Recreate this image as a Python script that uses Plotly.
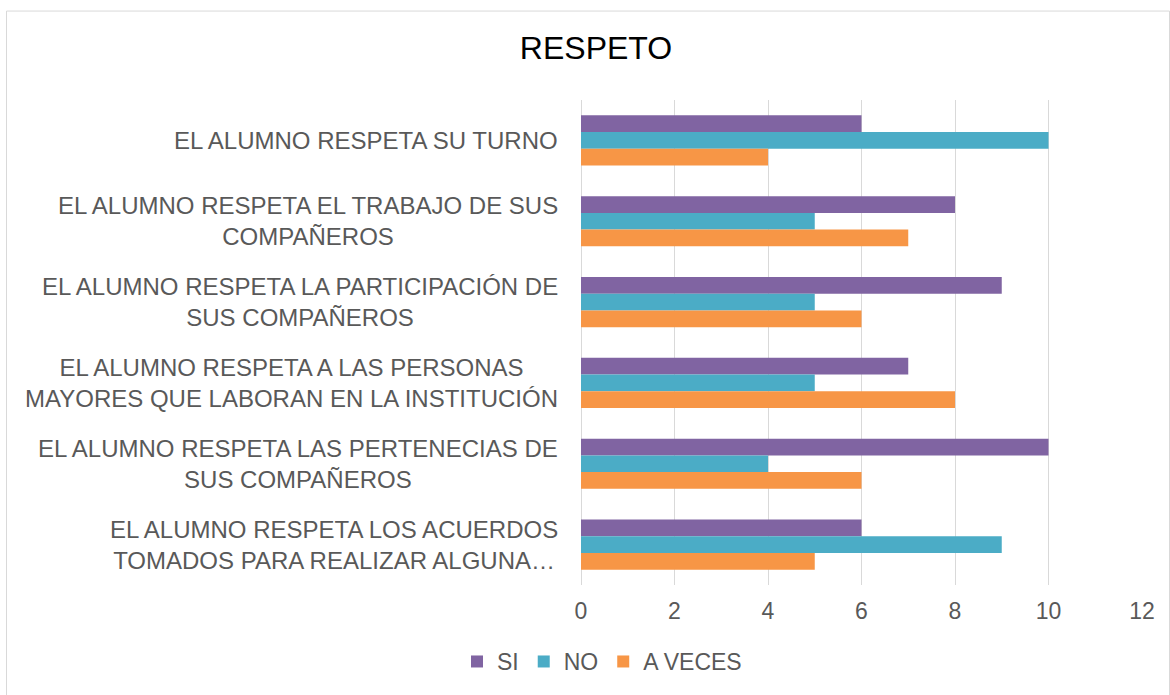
import plotly.graph_objects as go

categories = [
    "EL ALUMNO RESPETA SU TURNO",
    "EL ALUMNO RESPETA EL TRABAJO DE SUS<br>COMPAÑEROS",
    "EL ALUMNO RESPETA LA PARTICIPACIÓN DE<br>SUS COMPAÑEROS",
    "EL ALUMNO RESPETA A LAS PERSONAS<br>MAYORES QUE LABORAN EN LA INSTITUCIÓN",
    "EL ALUMNO RESPETA LAS PERTENECIAS DE<br>SUS COMPAÑEROS",
    "EL ALUMNO RESPETA LOS ACUERDOS<br>TOMADOS PARA REALIZAR ALGUNA…",
]
si = [6, 8, 9, 7, 10, 6]
no = [10, 5, 5, 5, 4, 9]
a_veces = [4, 7, 6, 8, 6, 5]
series_names = ["SI", "NO", "A VECES"]
colors = ["#8064A2", "#4BACC6", "#F79646"]
x_ticks = [0, 2, 4, 6, 8, 10, 12]

FONT = "Liberation Sans, Arial, sans-serif"
GRAY = "#595959"

fig = go.Figure()
for name, vals, col in zip(series_names, [si, no, a_veces], colors):
    fig.add_trace(go.Bar(y=categories, x=vals, name=name, orientation="h",
                         marker=dict(color=col, line=dict(width=0))))

for cat in categories:
    fig.add_annotation(x=0, y=cat, xref="x", yref="y", text=cat, showarrow=False,
                       xanchor="right", yanchor="middle", align="center", xshift=-21,
                       font=dict(family=FONT, size=24, color=GRAY))

W, H = 1170, 695
L, R, T, B = 581, 28, 100, 107
pw, ph = W - L - R, H - T - B
def px2x(p):
    return (p - L) / pw
def py2y(p):
    return (H - B - p) / ph

fig.add_shape(type="rect", xref="paper", yref="paper",
              x0=px2x(6.5), x1=px2x(1169.5), y0=py2y(700), y1=py2y(10.5),
              line=dict(color="#d9d9d9", width=1), fillcolor="rgba(0,0,0,0)", layer="below")

fig.update_layout(
    width=W, height=H,
    margin=dict(l=L, r=R, t=T, b=B),
    paper_bgcolor="white", plot_bgcolor="white",
    barmode="group", bargap=0.38, bargroupgap=0,
    title=dict(text="RESPETO", x=596 / W, xanchor="center", y=1 - 48 / H, yanchor="middle",
               yref="container", font=dict(family=FONT, size=32, color="#000000")),
    font=dict(family=FONT, color=GRAY),
    xaxis=dict(range=[0, 12], tickvals=x_ticks, showgrid=True, gridcolor="#d9d9d9", gridwidth=1,
               zeroline=True, zerolinecolor="#d9d9d9", zerolinewidth=1, showline=False,
               ticks="", ticklabelstandoff=10, tickfont=dict(family=FONT, size=23, color=GRAY)),
    yaxis=dict(autorange="reversed", showticklabels=False, showgrid=False, zeroline=False,
               showline=False, ticks=""),
    legend=dict(orientation="h", x=px2x(602), xanchor="center", y=py2y(665), yanchor="middle",
                font=dict(family=FONT, size=23, color=GRAY), itemwidth=30, tracegroupgap=0),
    showlegend=True,
)

fig.write_html("out.html", config={"displayModeBar": False},
               post_script="document.body.style.margin='0';document.body.style.overflow='hidden';")
